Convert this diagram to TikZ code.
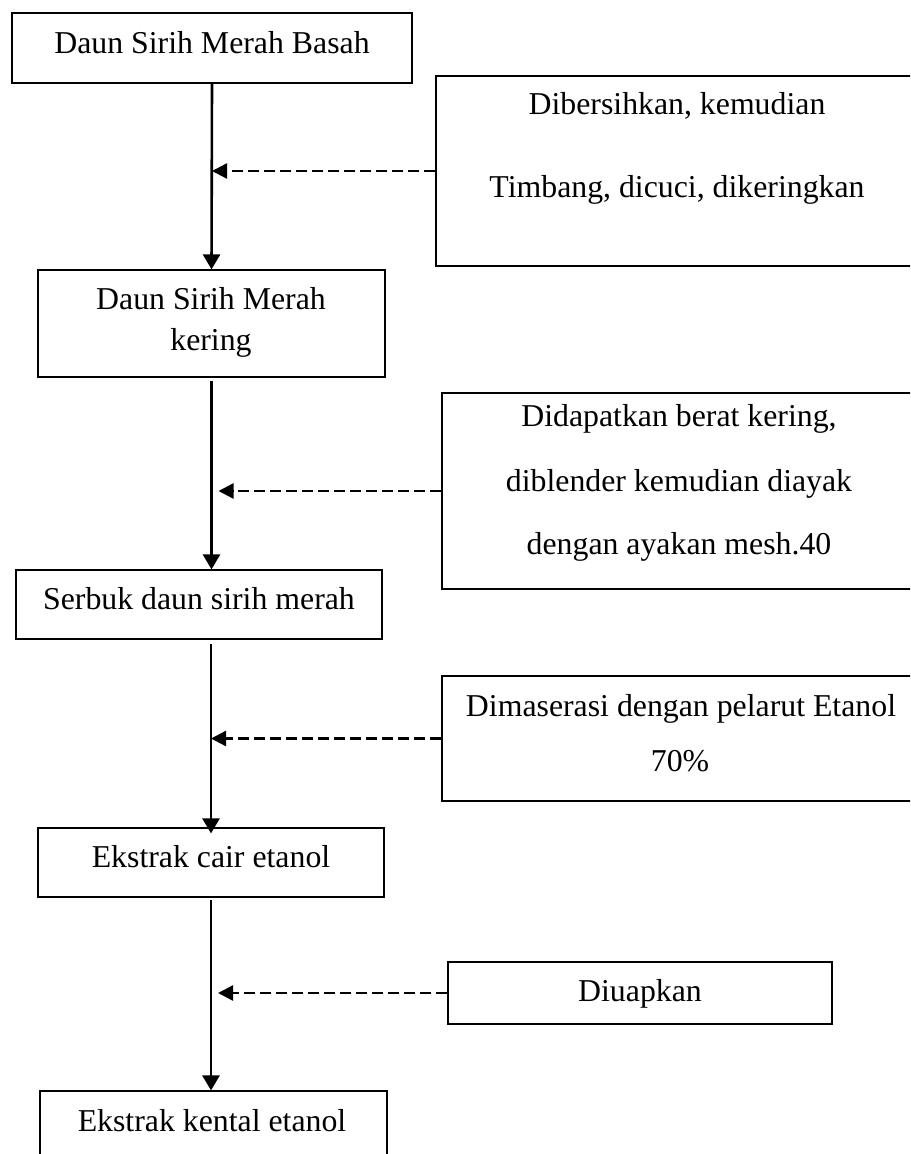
\documentclass[tikz,border=0pt]{standalone}
\usepackage{fontspec}
\setmainfont{Liberation Serif}
\usetikzlibrary{arrows.meta}
\begin{document}
\begin{tikzpicture}[x=0.5pt,y=-0.5pt,
  box/.style={draw, line width=0.6pt, inner sep=0pt, rectangle},
  txt/.style={anchor=base, inner sep=0pt, font=\fontsize{15.9}{19}\selectfont},
  flow/.style={line width=1.3pt, -{Triangle[length=7.5pt,width=8.5pt]}},
  feed/.style={line width=1.2pt, dash pattern=on 5.5pt off 2.5pt, -{Triangle[length=7.5pt,width=7.5pt]}}]
\useasboundingbox (0,0) rectangle (910,1154);
\clip (0,0) rectangle (910,1154);
% main boxes
\node[box, minimum width=200pt, minimum height=35pt] (b1) at (212,48) {};
\node[box, minimum width=173.5pt, minimum height=53.5pt] (b2) at (211.5,323.5) {};
\node[box, minimum width=183pt, minimum height=34.5pt] (b3) at (199,604.5) {};
\node[box, minimum width=173pt, minimum height=34.5pt] (b4) at (211,862.5) {};
\node[box, minimum width=173.5pt, minimum height=54.5pt] (b5) at (213.5,1145.5) {};
% side boxes
\node[box, minimum width=242pt, minimum height=95pt] (r1) at (678,171) {};
\node[box, minimum width=239pt, minimum height=98pt] (r2) at (681,491) {};
\node[box, minimum width=239pt, minimum height=62.5pt] (r3) at (681,738.5) {};
\node[box, minimum width=192pt, minimum height=31pt] (r4) at (640,993) {};
% texts
\node[txt] (t1) at (212,54) {Daun Sirih Merah Basah};
\node[txt] (t2a) at (211,310) {Daun Sirih Merah};
\node[txt] (t2b) at (211,351) {kering};
\node[txt] (t3) at (199,609) {Serbuk daun sirih merah};
\node[txt] (t4) at (211,867) {Ekstrak cair etanol};
\node[txt] (t5) at (212,1131) {Ekstrak kental etanol};
\node[txt] (s1a) at (677,115) {Dibersihkan, kemudian};
\node[txt] (s1b) at (677,198) {Timbang, dicuci, dikeringkan};
\node[txt] (s2a) at (679,426) {Didapatkan berat kering,};
\node[txt] (s2b) at (679,491) {diblender kemudian diayak};
\node[txt] (s2c) at (679,554) {dengan ayakan mesh.40};
\node[txt] (s3a) at (681,716) {Dimaserasi dengan pelarut Etanol};
\node[txt] (s3b) at (680,771) {70\%};
\node[txt] (s4) at (640,1001) {Diuapkan};
% flow arrows
\draw[flow] (b1.south) -- (b2.north);
\draw[flow, shorten <=1.5pt] (b2.south) -- (b2.south |- b3.north);
\draw[flow, shorten <=2pt, shorten >=-3pt] (b4.north |- b3.south) -- (b4.north);
\draw[flow, shorten <=1pt] (b4.south) -- (b4.south |- b5.north);
% feed arrows
\draw[feed] (r1.west) -- (r1.west -| b1.south);
\draw[feed, shorten >=3.5pt] (r2.west) -- (r2.west -| b2.south);
\draw[feed] (r3.west) -- (r3.west -| b4.north);
\draw[feed, shorten >=3.5pt] (r4.west) -- (r4.west -| b4.south);
\end{tikzpicture}
\end{document}
